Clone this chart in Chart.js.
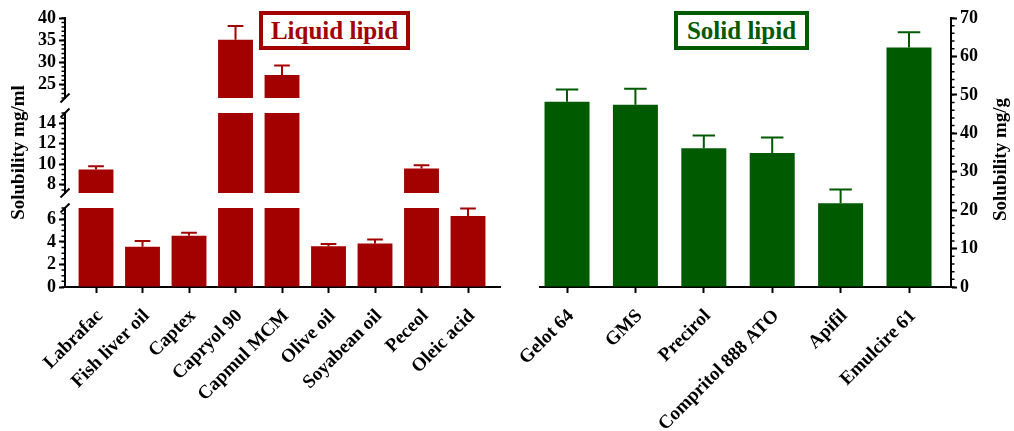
<!DOCTYPE html>
<html>
<head>
<meta charset="utf-8">
<script src="https://cdn.jsdelivr.net/npm/chart.js@4.4.1/dist/chart.umd.min.js"></script>
<style>
  html, body { margin: 0; padding: 0; background: #fff; }
  #wrap { position: relative; width: 1014px; height: 431px; overflow: hidden; }
  .panel { position: absolute; top: 0; height: 431px; }
  .tag {
    position: absolute; top: 11px; height: 39px; box-sizing: border-box;
    border: 4px solid; background: #fff; text-align: center;
    font: bold 25px "Liberation Serif", "Times New Roman", serif; line-height: 31px;
  }
</style>
</head>
<body>
<div id="wrap">
  <div class="panel" style="left:0;width:520px"><canvas id="liquidChart"></canvas></div>
  <div class="panel" style="left:460px;width:554px"><canvas id="solidChart"></canvas></div>
  <div class="tag" style="left:259px;width:151px;color:#a30000;border-color:#a30000">Liquid lipid</div>
  <div class="tag" style="left:674px;width:135px;color:#005a00;border-color:#005a00">Solid lipid</div>
</div>
<script>
const liquidLipids = ['Labrafac', 'Fish liver oil', 'Captex', 'Capryol 90', 'Capmul MCM',
                      'Olive oil', 'Soyabean oil', 'Peceol', 'Oleic acid'];
const liquidSolubility = [9.5, 3.57, 4.55, 35.1, 27.2, 3.6, 3.85, 9.6, 6.3];
const liquidSD = [0.3, 0.5, 0.25, 3.1, 2.1, 0.2, 0.35, 0.3, 0.65];

const solidLipids = ['Gelot 64', 'GMS', 'Precirol', 'Compritol 888 ATO', 'Apifil', 'Emulcire 61'];
const solidSolubility = [48.2, 47.4, 36.1, 34.9, 21.8, 62.3];
const solidSD = [3.2, 4.2, 3.3, 4.0, 3.6, 4.0];

// broken left axis: three pieces
const liquidTicksTop = [25, 30, 35, 40];
const liquidTicksMid = [8, 10, 12, 14];
const liquidTicksLow = [0, 2, 4, 6];
const solidTicks = [0, 10, 20, 30, 40, 50, 60, 70];

const RED = '#a30000';
const GREEN = '#005a00';
const SERIF = '"Liberation Serif", "Times New Roman", serif';
const tickFont = { family: SERIF, size: 18, weight: 'bold' };
const labelFont = { family: SERIF, size: 19, weight: 'bold' };

Chart.defaults.animation = false;
Chart.defaults.color = '#000';

// each copy of the bars only shows inside its own piece of the axis
const segmentClip = {
  id: 'segmentClip',
  beforeDatasetDraw(chart, args) {
    const ys = chart.scales[args.meta.yAxisID];
    const a = chart.chartArea;
    chart.ctx.save();
    chart.ctx.beginPath();
    chart.ctx.rect(a.left, ys.top, a.right - a.left, ys.bottom - ys.top);
    chart.ctx.clip();
  },
  afterDatasetDraw(chart) {
    chart.ctx.restore();
  }
};

const errorBars = {
  id: 'errorBars',
  afterDatasetsDraw(chart, args, opts) {
    if (!opts.sd) return;
    const ctx = chart.ctx;
    chart.data.datasets[0].data.forEach((pt, i) => {
      const v = pt.y;
      const top = v + opts.sd[i];
      let meta = null;
      chart.data.datasets.forEach((ds, d) => {
        const m = chart.getDatasetMeta(d);
        const s = chart.scales[m.yAxisID];
        if (v >= s.min && v <= s.max) meta = m;
      });
      if (!meta) return;
      const s = chart.scales[meta.yAxisID];
      const bar = meta.data[i];
      const y0 = s.getPixelForValue(v);
      const y1 = s.getPixelForValue(top);
      const half = bar.width * opts.cap / 2;
      ctx.save();
      ctx.strokeStyle = opts.color;
      ctx.lineWidth = 2;
      ctx.beginPath();
      ctx.moveTo(bar.x, y0);
      ctx.lineTo(bar.x, y1);
      ctx.moveTo(bar.x - half, y1);
      ctx.lineTo(bar.x + half, y1);
      ctx.stroke();
      ctx.restore();
    });
  }
};

const minorTicks = {
  id: 'minorTicks',
  afterDraw(chart, args, opts) {
    if (!opts.steps) return;
    const ctx = chart.ctx;
    ctx.save();
    ctx.strokeStyle = '#000';
    ctx.lineWidth = 1.5;
    Object.entries(opts.steps).forEach(([id, step]) => {
      const s = chart.scales[id];
      const left = s.position === 'left';
      const edge = left ? s.right : s.left;
      const dir = left ? -1 : 1;
      ctx.beginPath();
      for (let k = Math.ceil(s.min / step - 1e-9); k * step <= s.max + 1e-9; k++) {
        const y = s.getPixelForValue(k * step);
        ctx.moveTo(edge, y);
        ctx.lineTo(edge + dir * 3.5, y);
      }
      ctx.stroke();
    });
    ctx.restore();
  }
};

const axisBreaks = {
  id: 'axisBreaks',
  afterDraw(chart, args, opts) {
    if (!opts.ends) return;
    const ctx = chart.ctx;
    ctx.save();
    ctx.strokeStyle = '#000';
    ctx.lineWidth = 2;
    opts.ends.forEach(([id, side]) => {
      const s = chart.scales[id];
      const x = s.right;
      const y = side === 'top' ? s.top : s.bottom;
      ctx.beginPath();
      ctx.moveTo(x - 4.5, y + 4.5);
      ctx.lineTo(x + 4.5, y - 4.5);
      ctx.stroke();
    });
    ctx.restore();
  }
};

// y titles read bottom to top on both sides
const sideTitle = {
  id: 'sideTitle',
  afterDraw(chart, args, opts) {
    if (!opts.text) return;
    const ctx = chart.ctx;
    const a = chart.chartArea;
    ctx.save();
    ctx.translate(opts.x, (a.top + a.bottom) / 2 + (opts.dy || 0));
    ctx.rotate(-Math.PI / 2);
    ctx.font = 'bold 19px ' + SERIF;
    ctx.fillStyle = '#000';
    ctx.textAlign = 'center';
    ctx.textBaseline = 'middle';
    ctx.fillText(opts.text, 0, 0);
    ctx.restore();
  }
};

const plugins = [segmentClip, errorBars, minorTicks, axisBreaks, sideTitle];

function xAxis(labels, min, max) {
  return {
    type: 'linear', position: 'bottom', min, max, offset: false,
    border: { color: '#000', width: 2 },
    grid: { drawOnChartArea: false, offset: false, color: '#000', tickLength: 6, tickWidth: 2 },
    ticks: {
      autoSkip: false, minRotation: 45, maxRotation: 45, font: labelFont, color: '#000',
      padding: 12, labelOffset: 4,
      callback: v => labels[v]
    },
    afterBuildTicks: s => { s.ticks = labels.map((_, i) => ({ value: i })); },
    afterFit: s => { s.height = 144; }
  };
}

function pieceAxis(min, max, ticks, weight, stackWeight) {
  return {
    type: 'linear', position: 'left', stack: 'liquid', weight, stackWeight, min, max,
    border: { color: '#000', width: 2 },
    grid: { drawOnChartArea: false, color: '#000', tickLength: 6, tickWidth: 2 },
    ticks: { font: tickFont, color: '#000', padding: 3, autoSkip: false },
    afterBuildTicks: s => { s.ticks = ticks.map(v => ({ value: v })); },
    afterFit: s => { s.width = 65; }
  };
}

function gapAxis(weight) {
  return {
    type: 'linear', position: 'left', stack: 'liquid', weight, stackWeight: 15,
    border: { display: false }, grid: { display: false }, ticks: { display: false },
    afterFit: s => { s.width = 65; }
  };
}

new Chart(document.getElementById('liquidChart'), {
  type: 'bar',
  data: {
    datasets: ['yTop', 'yMid', 'yLow'].map(id => ({
      data: liquidSolubility.map((y, x) => ({ x, y })),
      yAxisID: id,
      backgroundColor: RED,
      grouped: false,
      barPercentage: 0.75,
      categoryPercentage: 1
    }))
  },
  options: {
    responsive: true,
    maintainAspectRatio: false,
    layout: { padding: { top: 18, right: 20, left: 0, bottom: 0 } },
    scales: {
      x: xAxis(liquidLipids, -0.667, 8.688),
      yTop: pieceAxis(22, 40, liquidTicksTop, 5, 80),
      gapA: gapAxis(4),
      yMid: pieceAxis(7.2, 15, liquidTicksMid, 3, 80),
      gapB: gapAxis(2),
      yLow: pieceAxis(0, 7, liquidTicksLow, 1, 79)
    },
    plugins: {
      legend: { display: false },
      tooltip: { enabled: false },
      errorBars: { sd: liquidSD, color: RED, cap: 0.45 },
      minorTicks: { steps: { yTop: 1, yMid: 0.5, yLow: 0.5 } },
      axisBreaks: { ends: [['yTop', 'bottom'], ['yMid', 'top'], ['yMid', 'bottom'], ['yLow', 'top']] },
      sideTitle: { text: 'Solubility mg/ml', x: 19 }
    }
  },
  plugins
});

new Chart(document.getElementById('solidChart'), {
  type: 'bar',
  data: {
    datasets: [{
      data: solidSolubility.map((y, x) => ({ x, y })),
      yAxisID: 'y',
      backgroundColor: GREEN,
      grouped: false,
      barPercentage: 0.658,
      categoryPercentage: 1
    }]
  },
  options: {
    responsive: true,
    maintainAspectRatio: false,
    layout: { padding: { top: 18, right: 0, left: 80, bottom: 0 } },
    scales: {
      x: xAxis(solidLipids, -0.395, 5.614),
      y: {
        type: 'linear', position: 'right', min: 0, max: 70,
        border: { color: '#000', width: 2 },
        grid: { drawOnChartArea: false, color: '#000', tickLength: 6, tickWidth: 2 },
        ticks: { font: tickFont, color: '#000', padding: 3, autoSkip: false },
        afterBuildTicks: s => { s.ticks = solidTicks.map(v => ({ value: v })); },
        afterFit: s => { s.width = 63; }
      }
    },
    plugins: {
      legend: { display: false },
      tooltip: { enabled: false },
      errorBars: { sd: solidSD, color: GREEN, cap: 0.5 },
      minorTicks: { steps: { y: 2 } },
      sideTitle: { text: 'Solubility mg/g', x: 541, dy: 7 }
    }
  },
  plugins
});
</script>
</body>
</html>
